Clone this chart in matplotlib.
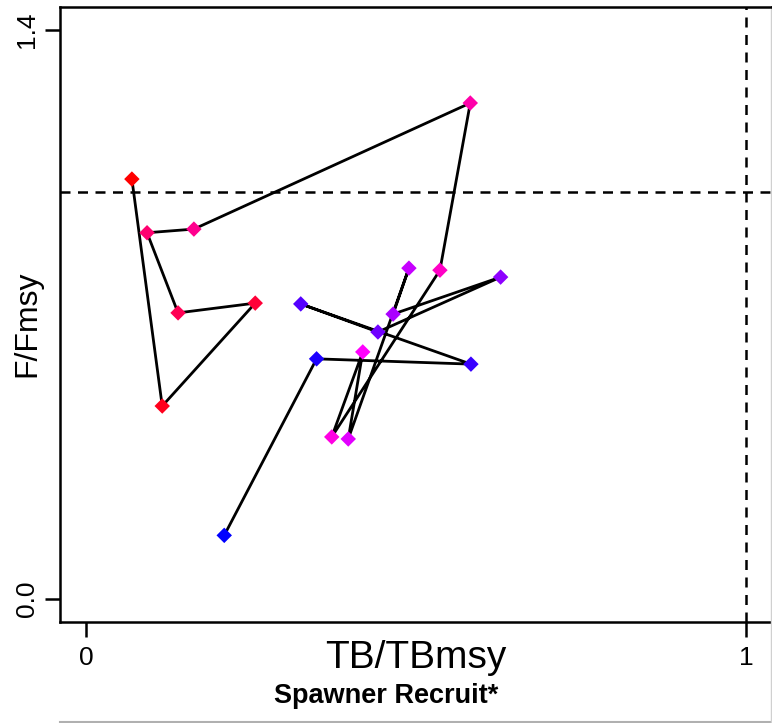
import matplotlib
matplotlib.use("Agg")
import matplotlib.pyplot as plt
from matplotlib.colors import LinearSegmentedColormap
from matplotlib.lines import Line2D

# trayectoria TB/TBmsy vs F/Fmsy, del primer anio (azul) al ultimo (rojo)
tb_tbmsy = [0.209, 0.349, 0.583, 0.325, 0.442, 0.628, 0.465, 0.489, 0.397, 0.419,
            0.372, 0.536, 0.582, 0.163, 0.092, 0.139, 0.256, 0.115, 0.069]
f_fmsy = [0.157, 0.591, 0.578, 0.726, 0.657, 0.792, 0.701, 0.814, 0.394, 0.608,
          0.399, 0.809, 1.220, 0.910, 0.901, 0.704, 0.728, 0.475, 1.033]
x_ticks = [0, 1]
x_ticklabels = ["0", "1"]
y_ticks = [0.0, 1.4]
y_ticklabels = ["0.0", "1.4"]
ref_tb = 1.0
ref_f = 1.0


def main():
    plt.rcParams["font.family"] = ["Liberation Sans", "DejaVu Sans"]
    fig = plt.figure(figsize=(7.72, 7.23), dpi=100)
    ax = fig.add_axes([0.0777, 0.1397, 0.9228, 0.8506])

    rampa = LinearSegmentedColormap.from_list("bmr", ["#0000ff", "#ff00ff", "#ff0000"])
    n = len(tb_tbmsy)
    colores = [rampa(i / (n - 1)) for i in range(n)]

    ax.plot(tb_tbmsy, f_fmsy, color="black", lw=2.0, zorder=2)
    ax.scatter(tb_tbmsy, f_fmsy, c=colores, marker="D", s=62, linewidths=0, zorder=3)

    ax.axhline(ref_f, color="black", lw=1.8, linestyle=(0, (4, 3)), zorder=1)
    ax.axvline(ref_tb, color="black", lw=1.8, linestyle=(0, (4, 3)), zorder=1)

    ax.set_xlim(-0.04, 1.04)
    ax.set_ylim(-0.056, 1.456)
    ax.set_xticks(x_ticks)
    ax.set_xticklabels(x_ticklabels)
    ax.set_yticks(y_ticks)
    ax.set_yticklabels(y_ticklabels, rotation=90, va="center")
    ax.tick_params(axis="both", direction="out", length=11, width=1.8, labelsize=19)
    ax.tick_params(axis="x", pad=6)
    ax.tick_params(axis="y", pad=4)
    for s in ax.spines.values():
        s.set_linewidth(1.8)

    ax.text(0.5, -0.075, "TB/TBmsy", transform=ax.transAxes, ha="center", va="baseline",
            fontsize=28)
    ax.text(-0.046, 0.485, "F/Fmsy", transform=ax.transAxes, ha="center", va="center",
            rotation=90, fontsize=23)
    fig.text(0.5, 0.038, "Spawner Recruit*", ha="center", va="center",
             fontsize=19.5, fontweight="bold")

    # bordes grises de la captura original
    fig.add_artist(Line2D([60 / 772, 1.0], [1 / 723, 1 / 723], color="#b0b0b0", lw=1.5))
    fig.add_artist(Line2D([771 / 772, 771 / 772], [0.0, 714 / 723], color="#d0d0d0", lw=1.0))

    fig.savefig("out.png", dpi=100)


if __name__ == "__main__":
    main()
